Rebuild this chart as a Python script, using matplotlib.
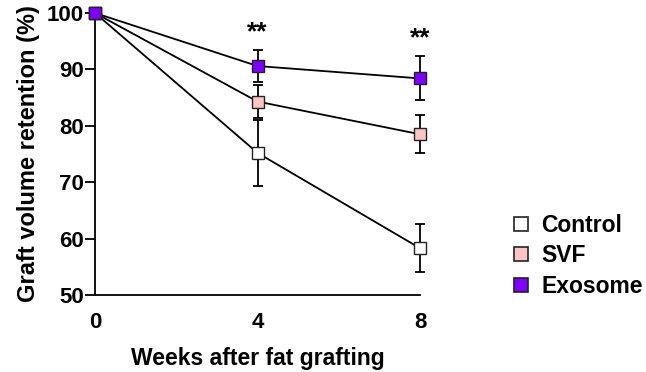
import numpy as np
import matplotlib
matplotlib.use('Agg')
import matplotlib.pyplot as plt
from matplotlib.lines import Line2D

plt.rcParams['font.family'] = ['Liberation Sans', 'DejaVu Sans']
plt.rcParams['font.weight'] = 'bold'

# data
weeks = [0, 4, 8]
groups = ['Control', 'SVF', 'Exosome']
control = [100, 75.2, 58.3]
control_err = [0, 5.8, 4.3]
svf = [100, 84.3, 78.5]
svf_err = [0, 3.0, 3.4]
exosome = [100, 90.6, 88.4]
exosome_err = [0, 2.9, 3.9]
star_x = [4, 8]
star_y = [96.6, 95.5]
star_text = ['**', '**']

colors = {'Control': '#ffffff', 'SVF': '#ffc4c4', 'Exosome': '#7f00ff'}
series = {'Control': (control, control_err),
          'SVF': (svf, svf_err),
          'Exosome': (exosome, exosome_err)}

fig = plt.figure(figsize=(6.46, 3.72), dpi=100)
ax = fig.add_axes([95 / 646, 1 - 295 / 372, 325 / 646, 282 / 372])

for name in groups:
    vals, err = series[name]
    ax.errorbar(weeks, vals, yerr=err, fmt='none', ecolor='black',
                elinewidth=1.3, capsize=3.5, capthick=1.3, clip_on=False, zorder=2)
    ax.plot(weeks, vals, '-', color='black', lw=1.3, marker='s', markersize=8,
            markerfacecolor=colors[name], markeredgecolor='#222222',
            markeredgewidth=1.0, clip_on=False, zorder=3)

for x, y, t in zip(star_x, star_y, star_text):
    ax.text(x, y, t, ha='center', va='center', fontsize=19, fontweight='bold')

ax.set_xlim(0, 8)
ax.set_ylim(50, 100)
ax.set_xticks(weeks)
ax.set_yticks(np.arange(50, 101, 10))
ax.tick_params(axis='x', length=0, labelsize=16, pad=12)
ax.tick_params(axis='y', direction='out', length=7, width=1.3, labelsize=16, pad=1)
for s in ['top', 'right']:
    ax.spines[s].set_visible(False)
for s in ['left', 'bottom']:
    ax.spines[s].set_linewidth(1.3)

ax.set_xlabel('Weeks after fat grafting', fontsize=16.5, fontweight='bold', labelpad=10)
ax.set_ylabel('Graft volume retention (%)', fontsize=17, fontweight='bold', labelpad=5)

handles = [Line2D([], [], ls='none', marker='s', markersize=10,
                  markerfacecolor=colors[g], markeredgecolor='#222222',
                  markeredgewidth=1.2) for g in groups]
fig.legend(handles, groups, loc='center left', bbox_to_anchor=(508 / 646, 1 - 256 / 372),
           frameon=False, fontsize=16.5, handletextpad=0.35, labelspacing=0.33,
           handlelength=1.1, borderaxespad=0, borderpad=0)

fig.savefig('out.png', dpi=100)
